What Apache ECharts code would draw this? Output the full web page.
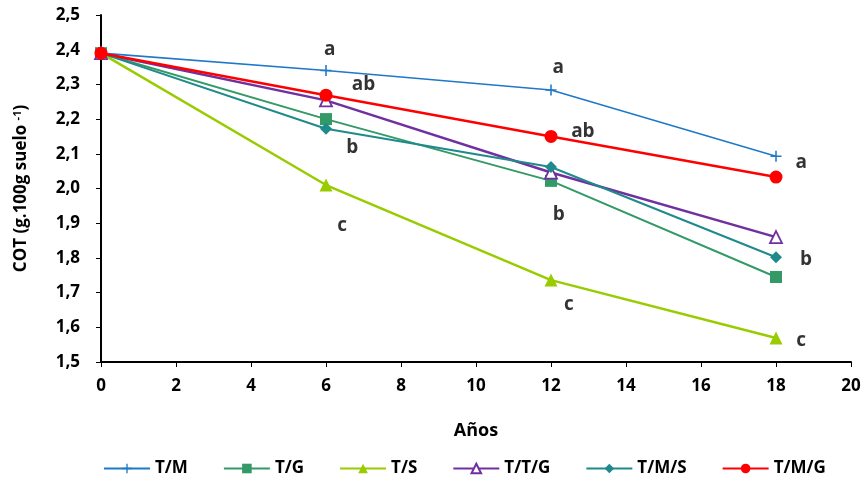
<!DOCTYPE html>
<html><head><meta charset="utf-8">
<script src="https://cdn.jsdelivr.net/npm/echarts@6/dist/echarts.min.js"></script>
<style>html,body{margin:0;padding:0;background:#fff}#c{width:865px;height:485px}</style>
</head><body><div id="c"></div>
<script>
const years = [0, 6, 12, 18];
const seriesNames = ['T/M', 'T/G', 'T/S', 'T/T/G', 'T/M/S', 'T/M/G'];
const tM   = [2.39, 2.34, 2.284, 2.093];
const tG   = [2.39, 2.20, 2.022, 1.745];
const tS   = [2.39, 2.01, 1.736, 1.569];
const tTG  = [2.39, 2.254, 2.046, 1.860];
const tMS  = [2.39, 2.172, 2.062, 1.802];
const tMG  = [2.39, 2.269, 2.150, 2.033];
const xTicks = [0, 2, 4, 6, 8, 10, 12, 14, 16, 18, 20];
const yTicks = [1.5, 1.6, 1.7, 1.8, 1.9, 2.0, 2.1, 2.2, 2.3, 2.4, 2.5];
// significance letters: [x, y, letter]
const letters = [
  [6.1, 2.40, 'a'], [7.0, 2.30, 'ab'], [6.7, 2.117, 'b'], [6.43, 1.892, 'c'],
  [12.19, 2.347, 'a'], [12.85, 2.163, 'ab'], [12.21, 1.924, 'b'], [12.48, 1.664, 'c'],
  [18.67, 2.076, 'a'], [18.8, 1.794, 'b'], [18.67, 1.563, 'c']
];

const values = [tM, tG, tS, tTG, tMS, tMG];
const colors = ['#1F78C8', '#339966', '#99CC00', '#7030A0', '#1F8A8C', '#FF0000'];
const plus = 'path://M4.3,0h1.4v10h-1.4zM0,4.3h10v1.4h-10z';
const styles = [
  {symbol: plus, size: 11, width: 1.6, fill: colors[0]},
  {symbol: 'rect', size: 12, width: 2, fill: colors[1]},
  {symbol: 'triangle', size: 13, width: 2.5, fill: colors[2]},
  {symbol: 'triangle', size: 12, width: 2.5, fill: '#ffffff', border: colors[3]},
  {symbol: 'diamond', size: 12, width: 2, fill: colors[4]},
  {symbol: 'circle', size: 13, width: 2.5, fill: colors[5]}
];
const font = 'Open Sans';
const series = seriesNames.map((n, i) => ({
  name: n, type: 'line',
  data: years.map((x, j) => [x, values[i][j]]),
  symbol: styles[i].symbol, symbolSize: styles[i].size,
  lineStyle: {color: colors[i], width: styles[i].width},
  itemStyle: {color: styles[i].fill, borderColor: styles[i].border || styles[i].fill, borderWidth: styles[i].border ? 1.8 : 0},
  emphasis: {disabled: true},
  z: 2 + i
}));
series.push({
  name: 'letters', type: 'scatter', data: letters, symbolSize: 0.1,
  itemStyle: {color: 'transparent'},
  label: {show: true, position: 'inside', formatter: p => p.data[2], color: '#000',
          fontFamily: font, fontWeight: 'bold', fontSize: 19},
  z: 20
});
const chart = echarts.init(document.getElementById('c'));
chart.setOption({
  animation: false,
  color: colors,
  grid: {left: 101, right: 14, top: 15, bottom: 123, containLabel: false},
  xAxis: {
    type: 'value', min: 0, max: 20, interval: 2,
    name: 'Años', nameLocation: 'middle', nameGap: 60,
    nameTextStyle: {fontFamily: font, fontWeight: 'bold', fontSize: 18, color: '#000'},
    axisLine: {lineStyle: {color: '#000', width: 2}},
    axisTick: {show: true, inside: false, length: 5, lineStyle: {color: '#000', width: 1}},
    axisLabel: {fontFamily: font, fontWeight: 'bold', fontSize: 17, color: '#000', margin: 16,
      formatter: v => xTicks.includes(v) ? String(v) : ''},
    splitLine: {show: false}
  },
  yAxis: {
    type: 'value', min: 1.5, max: 2.5, interval: 0.1,
    name: '{n|COT (g.100g suelo }{s|-1}{n|)}', nameLocation: 'middle', nameGap: 70,
    nameTextStyle: {rich: {
      n: {fontFamily: font, fontWeight: 'bold', fontSize: 17, color: '#000'},
      s: {fontFamily: font, fontWeight: 'bold', fontSize: 11, color: '#000', verticalAlign: 'top', padding: [0, 0, 8, 0]}
    }},
    axisLine: {show: true, lineStyle: {color: '#000', width: 2}},
    axisTick: {show: true, inside: false, length: 5, lineStyle: {color: '#000', width: 1}},
    axisLabel: {fontFamily: font, fontWeight: 'bold', fontSize: 17, color: '#000', margin: 21,
      formatter: v => { const t = yTicks.find(y => Math.abs(y - v) < 1e-6); return t === undefined ? '' : t.toFixed(1).replace('.', ','); }},
    splitLine: {show: false}
  },
  legend: {
    data: seriesNames, bottom: 3, left: 98, itemWidth: 46, itemHeight: 12, itemGap: 35,
    textStyle: {fontFamily: font, fontWeight: 'bold', fontSize: 17, color: '#000'}
  },
  series: series
});
</script></body></html>
